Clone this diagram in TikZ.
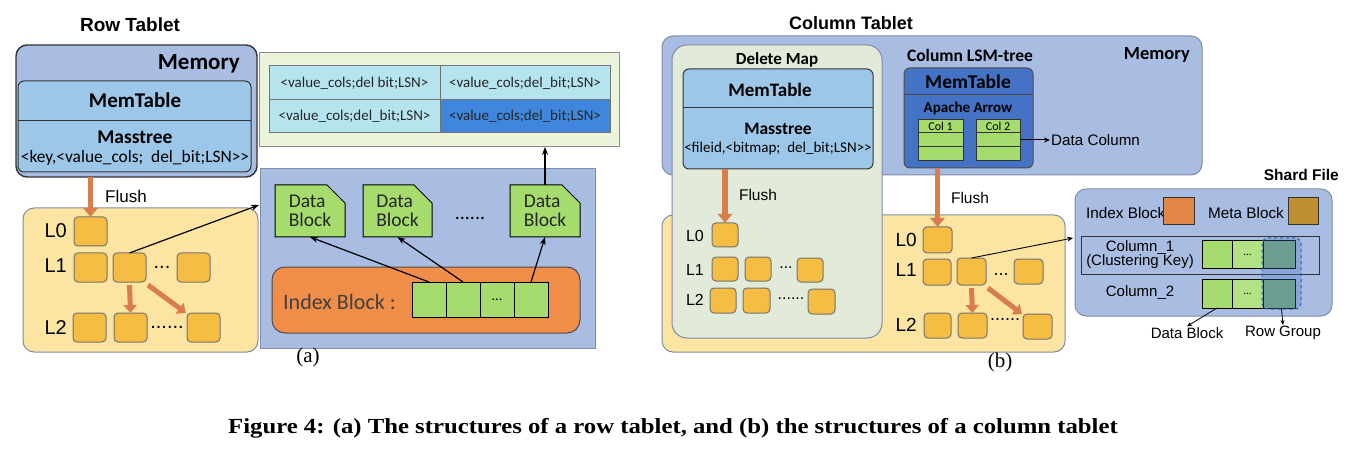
\documentclass[tikz,border=0pt]{standalone}
\usepackage{fontspec}
\setmainfont{Liberation Serif}
\setsansfont{Liberation Sans}
\newfontfamily\calfont{Carlito}
\newfontfamily\capfont[FakeStretch=1.15]{Liberation Serif}
\usetikzlibrary{arrows.meta,shapes.misc}
\definecolor{memblue}{HTML}{A9BCE2}
\definecolor{mtblue}{HTML}{9DC7E8}
\definecolor{diskyel}{HTML}{FCE4A2}
\definecolor{sstgold}{HTML}{F5BD42}
\definecolor{flushor}{HTML}{D97D4C}
\definecolor{blkgreen}{HTML}{A6DC6E}
\definecolor{tabgreen}{HTML}{EBF5DC}
\definecolor{tabcyan}{HTML}{B6E4EE}
\definecolor{tabdark}{HTML}{3F86DC}
\definecolor{idxorange}{HTML}{F08D49}
\definecolor{dmgreen}{HTML}{E2EBD9}
\definecolor{colblue}{HTML}{4472C4}
\definecolor{rggreen}{HTML}{80AF7D}
\definecolor{metabrown}{HTML}{BF9031}
\definecolor{edgegray}{HTML}{7F8CA6}
\newcommand{\fsz}[1]{\fontsize{#1}{#1}\selectfont}
\newcommand{\calb}[1]{\calfont\bfseries\fsz{#1}}

\begin{document}
\begin{tikzpicture}[x=1pt,y=-1pt]
                        \tikzstyle{box}=[draw, anchor=north west, inner sep=0pt, outer sep=0pt, line width=1pt]
                        \tikzstyle{memory}=[box, fill=memblue, rounded corners=11pt]
                        \tikzstyle{memtab}=[box, fill=mtblue, draw=black!80, rounded corners=6pt]
                        \tikzstyle{disk}=[box, fill=diskyel, draw=edgegray, rounded corners=11pt]
                        \tikzstyle{sst}=[box, fill=sstgold, draw=black!55, rounded corners=4pt]
                        \tikzstyle{datablk}=[box, chamfered rectangle, chamfered rectangle corners=north east,
                            chamfered rectangle xsep=9pt, chamfered rectangle ysep=9pt, fill=blkgreen,
                            minimum width=70, minimum height=52, align=left, font=\calfont\fsz{19.5}, text=black!85]
                        \tikzstyle{cell}=[box, fill=blkgreen, draw=black]
                        \tikzstyle{tabcell}=[box, fill=tabcyan, draw=black!55, minimum height=34, font=\calfont\fsz{15}, text=black!85]
                        \tikzstyle{lbl}=[inner sep=1pt, font=\sffamily\fsz{17}]
                        \tikzstyle{lvl}=[inner sep=1pt, anchor=east, font=\sffamily\fsz{20}]
                        \tikzstyle{flusharrow}=[draw=flushor, line width=5.5pt, -{Triangle[length=9pt,width=14pt]}]
                        \tikzstyle{ptr}=[draw=black, line width=1.2pt, -{Stealth[length=8pt,width=6pt]}]
                        \path[use as bounding box] (0,0) rectangle (1348,462);
                        \node[lbl, font=\sffamily\bfseries\fsz{19}] (rowtitle) at (130,25) {Row Tablet};
                        \node[memory, draw=black!80, line width=1.4pt, minimum width=241, minimum height=132] (rowmem) at (16,45) {};
                        \node[lbl, anchor=east, font=\calb{23}] (rowmemlbl) at (241,64) {Memory};
                        \node[memtab, minimum width=233, minimum height=91] (rowmt) at (18,81) {};
                        \coordinate (rowcut) at (0,121);
                        \draw[line width=1pt, black!80] (rowmt.west |- rowcut) -- (rowmt.east |- rowcut);
                        \node[lbl, font=\calb{21}] (rowmtlbl) at (135,100) {MemTable};
                        \node[lbl, font=\calb{19.5}] (rowmass) at (135,137) {Masstree};
                        \node[lbl, font=\calfont\fsz{17.4}] (rowkey) at (135,158) {<key,<value\_cols;\ \ del\_bit;LSN>>};
                        \node[disk, minimum width=235, minimum height=144] (rowdisk) at (23,208) {};
                        \node[sst, minimum width=33, minimum height=29] (rowlza) at (74,217) {};
                        \node[sst, minimum width=33, minimum height=29] (rowloa) at (74,253) {};
                        \node[sst, minimum width=33, minimum height=29] (rowlob) at (113,253) {};
                        \node[sst, minimum width=33, minimum height=29] (rowloc) at (177,253) {};
                        \node[sst, minimum width=33, minimum height=29] (rowlta) at (73,313) {};
                        \node[sst, minimum width=33, minimum height=29] (rowltb) at (114,313) {};
                        \node[sst, minimum width=33, minimum height=29] (rowltc) at (187,313) {};
                        \node[lvl] (rowlzlbl) at (68,231) {L0};
                        \node[lvl] (rowlolbl) at (68,266) {L1};
                        \node[lvl] (rowltlbl) at (68,328) {L2};
                        \node[lbl, anchor=base, font=\sffamily\fsz{20}] (rowlodots) at (162,269) {...};
                        \node[lbl, anchor=base, font=\sffamily\fsz{20}] (rowltdots) at (167,328) {......};
                        \draw[flusharrow] (rowlza.north |- rowmem.south) -- (rowlza.north);
                        \node[lbl, font=\sffamily\fsz{17}] (rowflush) at (126,196) {Flush};
                        \draw[flusharrow, line width=5pt, -{Triangle[length=8pt,width=13pt]}] ([yshift=-3pt]rowlob.south) -- (rowltb.north);
                        \draw[flusharrow, line width=5pt, -{Triangle[length=8pt,width=13pt]}] ([shift={(2pt,-3pt)}]rowlob.south east) -- ([xshift=-1pt]rowltc.north west);
                        \node[box, fill=memblue, draw=edgegray, minimum width=335, minimum height=179] (rowfile) at (260,169) {};
                        \coordinate (rowfilein) at (259,205);
                        \draw[ptr] (rowlob.north) -- (rowfilein);
                        \node[datablk] (rowdba) at (275,185) {Data\\Block};
                        \node[datablk, minimum width=69] (rowdbb) at (363,185) {Data\\Block};
                        \node[datablk] (rowdbc) at (510,185) {Data\\Block};
                        \node[lbl, anchor=base, font=\calfont\fsz{20}] (rowdbdots) at (470,220) {......};
                        \node[box, fill=idxorange, draw=black!70, rounded corners=13pt, minimum width=308, minimum height=66] (rowidx) at (272,267) {};
                        \node[lbl, anchor=west, font=\calfont\fsz{22}, text=black!75] (rowidxlbl) at (282,302) {Index Block :};
                        \node[cell, minimum width=34, minimum height=35] (rowica) at (412,282) {};
                        \node[cell, minimum width=34, minimum height=35] (rowicb) at (446,282) {};
                        \node[cell, minimum width=34, minimum height=35, font=\calfont\fsz{14}] (rowicc) at (480,282) {...};
                        \node[cell, minimum width=34, minimum height=35] (rowicd) at (514,282) {};
                        \draw[ptr] (rowica.north) -- (rowdba.south);
                        \draw[ptr] (rowicb.north) -- (rowdbb.south);
                        \draw[ptr] (rowicd.north) -- (rowdbc.south);
                        \node[box, fill=tabgreen, draw=black!45, minimum width=360, minimum height=94] (rowtab) at (259,53) {};
                        \node[tabcell, minimum width=171] (rowtaa) at (269,66) {<value\_cols;del bit;LSN>};
                        \node[tabcell, minimum width=170] (rowtab2) at (440,66) {<value\_cols;del\_bit;LSN>};
                        \node[tabcell, minimum width=171, minimum height=33] (rowtba) at (269,100) {<value\_cols;del\_bit;LSN>};
                        \node[tabcell, fill=tabdark, minimum width=170, minimum height=33] (rowtbb) at (440,100) {<value\_cols;del\_bit;LSN>};
                        \draw[ptr] (rowdbc.north) -- (rowdbc.north |- rowtab.south);
                        \node[lbl, font=\rmfamily\fsz{21}] (suba) at (308,357) {(a)};
                        \node[lbl, font=\sffamily\bfseries\fsz{18}] (coltitle) at (851,23) {Column Tablet};
                        \node[memory, draw=edgegray, minimum width=540, minimum height=139] (colmem) at (662,36) {};
                        \node[lbl, anchor=east, font=\calb{18.5}] (colmemlbl) at (1191,55) {Memory};
                        \node[disk, minimum width=403, minimum height=137] (coldisk) at (662,215) {};
                        \node[box, fill=dmgreen, draw=edgegray, rounded corners=15pt, minimum width=210, minimum height=293] (delmap) at (672,45) {};
                        \node[lbl, font=\calb{17}] (delmaplbl) at (777,60) {Delete Map};
                        \node[memtab, minimum width=190, minimum height=100] (delmt) at (683,69) {};
                        \coordinate (delcut) at (0,108);
                        \draw[line width=1pt, black!80] (delmt.west |- delcut) -- (delmt.east |- delcut);
                        \node[lbl, font=\calb{19}] (delmtlbl) at (770,90) {MemTable};
                        \node[lbl, font=\calb{17.5}] (delmass) at (778,129) {Masstree};
                        \node[lbl, font=\calfont\fsz{15}] (delkey) at (778,149) {<fileid,<bitmap;\ \ del\_bit;LSN>>};
                        \node[sst, minimum width=26, minimum height=24] (dellza) at (712,223) {};
                        \node[sst, minimum width=26, minimum height=24] (delloa) at (712,257) {};
                        \node[sst, minimum width=26, minimum height=24] (dellob) at (745,257) {};
                        \node[sst, minimum width=26, minimum height=24] (delloc) at (797,258) {};
                        \node[sst, minimum width=26, minimum height=25] (dellta) at (710,288) {};
                        \node[sst, minimum width=27, minimum height=25] (delltb) at (743,288) {};
                        \node[sst, minimum width=27, minimum height=25] (delltc) at (808,289) {};
                        \node[lvl, font=\sffamily\fsz{16}] (dellzlbl) at (705,236) {L0};
                        \node[lvl, font=\sffamily\fsz{16}] (dellolbl) at (705,270) {L1};
                        \node[lvl, font=\sffamily\fsz{16}] (delltlbl) at (705,300) {L2};
                        \node[lbl, anchor=base, font=\sffamily\fsz{16}] (dellodots) at (786,268) {...};
                        \node[lbl, anchor=base, font=\sffamily\fsz{16}] (delltdots) at (791,299) {......};
                        \draw[flusharrow] (dellza.north |- delmt.south) -- (dellza.north);
                        \node[lbl, font=\sffamily\fsz{15.5}] (delflush) at (758,195) {Flush};
                        \node[lbl, font=\calb{17.5}] (lsmlbl) at (970,55) {Column LSM-tree};
                        \node[box, fill=colblue, draw=black!70, rounded corners=6pt, minimum width=129, minimum height=100] (colmt) at (904,68) {};
                        \coordinate (colcut) at (0,95);
                        \draw[line width=1pt, black!70] (colmt.west |- colcut) -- (colmt.east |- colcut);
                        \node[lbl, font=\calb{19.5}] (colmtlbl) at (968,82) {MemTable};
                        \node[lbl, font=\calb{15}] (arrowlbl) at (968,108) {Apache Arrow};
                        \node[cell, draw=black!80, minimum width=45, minimum height=13, font=\calfont\fsz{12}] (colah) at (918,120) {Col 1};
                        \node[cell, draw=black!80, minimum width=45, minimum height=14] (colaa) at (918,133) {};
                        \node[cell, draw=black!80, minimum width=45, minimum height=14] (colab) at (918,147) {};
                        \node[cell, draw=black!80, minimum width=44, minimum height=13, font=\calfont\fsz{12}] (colbh) at (976,120) {Col 2};
                        \node[cell, draw=black!80, minimum width=44, minimum height=14] (colba) at (976,133) {};
                        \node[cell, draw=black!80, minimum width=44, minimum height=14] (colbb) at (976,147) {};
                        \node[lbl, anchor=west, font=\sffamily\fsz{15.2}] (datacol) at (1050,140) {Data Column};
                        \draw[ptr, line width=1pt, -{Stealth[length=6pt,width=5pt]}] (colba.east) -- (datacol.west);
                        \node[sst, minimum width=29, minimum height=26] (collza) at (923,227) {};
                        \node[sst, minimum width=28, minimum height=26] (colloa) at (923,259) {};
                        \node[sst, minimum width=29, minimum height=27] (collob) at (957,258) {};
                        \node[sst, minimum width=29, minimum height=25] (colloc) at (1014,259) {};
                        \node[sst, minimum width=27, minimum height=25] (collta) at (924,313) {};
                        \node[sst, minimum width=29, minimum height=25] (colltb) at (958,313) {};
                        \node[sst, minimum width=29, minimum height=25] (colltc) at (1023,314) {};
                        \node[lvl, font=\sffamily\fsz{19}] (collzlbl) at (918,240) {L0};
                        \node[lvl, font=\sffamily\fsz{19}] (collolbl) at (918,270) {L1};
                        \node[lvl, font=\sffamily\fsz{19}] (colltlbl) at (918,325) {L2};
                        \node[lbl, anchor=base, font=\sffamily\fsz{18}] (collodots) at (1001,275) {...};
                        \node[lbl, anchor=base, font=\sffamily\fsz{18}] (colltdots) at (1005,320) {......};
                        \draw[flusharrow] (collza.north |- colmt.south) -- (collza.north);
                        \node[lbl, font=\sffamily\fsz{15.5}] (colflush) at (970,198) {Flush};
                        \draw[flusharrow, line width=5pt, -{Triangle[length=8pt,width=13pt]}] ([yshift=-3pt]collob.south) -- (colltb.north);
                        \draw[flusharrow, line width=5pt, -{Triangle[length=8pt,width=13pt]}] ([shift={(2pt,-3pt)}]collob.south east) -- ([xshift=-1pt]colltc.north west);
                        \node[lbl, anchor=east, font=\sffamily\bfseries\fsz{15.5}] (shardlbl) at (1340,175) {Shard File};
                        \node[box, fill=memblue, draw=edgegray, rounded corners=11pt, minimum width=257, minimum height=127] (shard) at (1075,189) {};
                        \coordinate (shardin) at (1073,238);
                        \draw[ptr, line width=0.9pt, -{Stealth[length=6pt,width=5pt]}] (collob.north) -- (shardin);
                        \node[lbl, anchor=west, font=\sffamily\fsz{15.3}] (idxlbl) at (1085,213) {Index Block};
                        \node[box, fill=idxorange!95!black, draw=black!80, minimum width=31, minimum height=27] (idxsq) at (1163,198) {};
                        \node[lbl, anchor=west, font=\sffamily\fsz{15.3}] (metalbl) at (1207,213) {Meta Block};
                        \node[box, fill=metabrown, draw=black!80, minimum width=30, minimum height=27] (metasq) at (1288,198) {};
                        \node[box, draw=black!80, minimum width=238, minimum height=37] (colone) at (1081,237) {};
                        \node[lbl, align=center, font=\sffamily\fsz{15}] (colonelbl) at (1140,255) {Column\_1\\[-1pt](Clustering Key)};
                        \node[cell, minimum width=30, minimum height=27] (shaa) at (1202,241) {};
                        \node[cell, fill=blkgreen!85!white, minimum width=31, minimum height=27, font=\calfont\fsz{11}] (shab) at (1232,241) {...};
                        \node[cell, fill=rggreen, minimum width=32, minimum height=27] (shac) at (1263,241) {};
                        \node[lbl, font=\sffamily\fsz{15}] (coltwolbl) at (1140,293) {Column\_2};
                        \node[cell, minimum width=30, minimum height=29] (shba) at (1202,279) {};
                        \node[cell, fill=blkgreen!85!white, minimum width=31, minimum height=29, font=\calfont\fsz{11}] (shbb) at (1232,279) {...};
                        \node[cell, fill=rggreen, minimum width=32, minimum height=29] (shbc) at (1263,279) {};
                        \node[box, dashed, draw=colblue!80!black, fill=colblue, fill opacity=0.3, rounded corners=6pt, minimum width=39, minimum height=71] (rowgrp) at (1262,238) {};
                        \node[lbl, font=\sffamily\fsz{15}] (dblklbl) at (1187,333) {Data Block};
                        \node[lbl, font=\sffamily\fsz{15}] (rglbl) at (1283,333) {Row Group};
                        \draw[ptr, line width=0.8pt, -{Stealth[length=5pt,width=4pt]}] (shba.south) -- (dblklbl.north);
                        \draw[ptr, line width=0.8pt, -{Stealth[length=5pt,width=4pt]}] (rowgrp.south) -- (rglbl.north);
                        \node[lbl, font=\rmfamily\fsz{21}] (subb) at (1000,362) {(b)};
                        \node[lbl, font=\capfont\bfseries\fsz{21.5}] (caption) at (673,428) {Figure 4: (a) The structures of a row tablet, and (b) the structures of a column tablet};
                    \end{tikzpicture}
\end{document}
